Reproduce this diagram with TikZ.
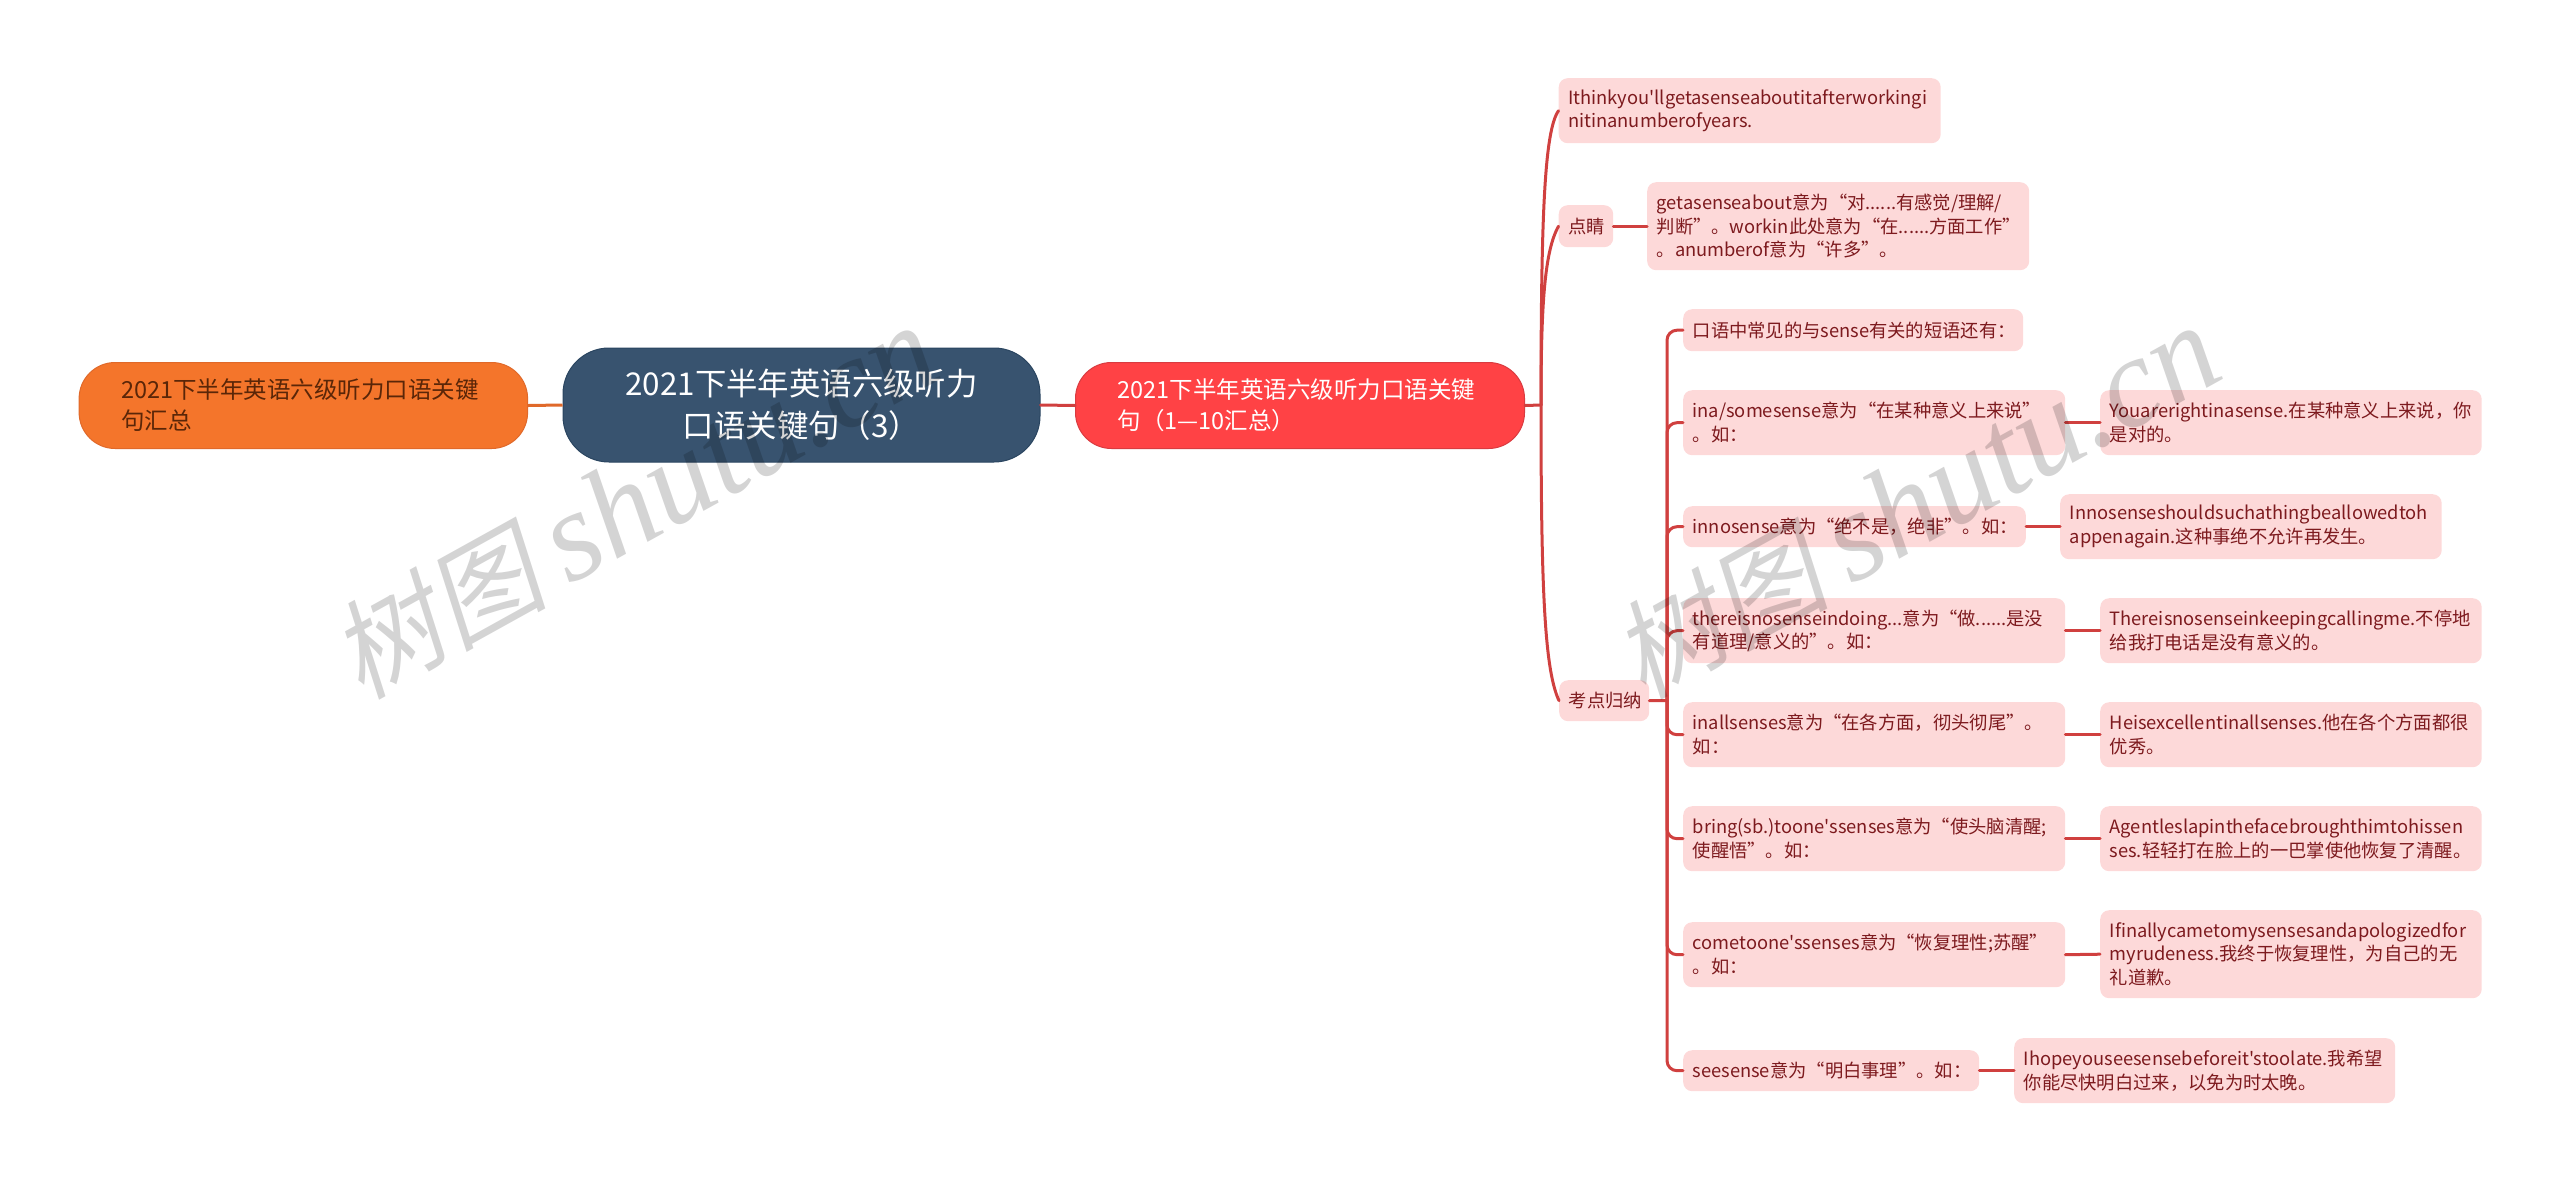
\documentclass[tikz,border=0pt]{standalone}
\usepackage{fontspec}
\usepackage{xcolor}
\newfontfamily\cjk{Noto Sans CJK SC}
\newfontfamily\cjkwm[FakeSlant=0.2]{Noto Sans CJK SC}
\newfontfamily\latwm{Liberation Serif}
\definecolor{rootbg}{HTML}{38536F}
\definecolor{rootln}{HTML}{2A4560}
\definecolor{leftbg}{HTML}{F4752B}
\definecolor{leftln}{HTML}{E0692A}
\definecolor{lefttx}{HTML}{5A2608}
\definecolor{mainbg}{HTML}{FF4245}
\definecolor{mainln}{HTML}{D93B40}
\definecolor{palebg}{HTML}{FDD9D9}
\definecolor{paletx}{HTML}{7D1A1E}
\definecolor{connln}{HTML}{D0403F}
\tikzset{
  rootnode/.style={draw=rootln, fill=rootbg, line width=1pt, rounded corners=46pt, text=white, align=center, font=\cjk\fontsize{31.4}{42}\selectfont},
  pill/.style={line width=1pt, rounded corners=36pt, anchor=north west, inner xsep=42pt, align=left, font=\cjk\fontsize{23.5}{31}\selectfont},
  pale/.style={fill=palebg, rounded corners=9pt, anchor=north west, inner xsep=9.5pt, inner ysep=0pt, align=left, text=paletx, font=\cjk\fontsize{18.3}{23.5}\selectfont},
  sz/.style 2 args={text width={#1pt-19pt}, minimum height=#2pt},
  conn/.style={draw=connln, line width=3pt, line cap=round},
  wm/.style={text=black, opacity=0.17, rotate=29},
}
\newcommand{\wmtext}{{\cjkwm\fontsize{108}{108}\selectfont 树图}\hspace{22pt}{\latwm\itshape\fontsize{128}{128}\selectfont shutu.cn}}
\begin{document}
\begin{tikzpicture}[x=1pt, y=-1pt]
  \useasboundingbox (0,0) rectangle (2560,1181);
  \node[rootnode, minimum width=477pt, minimum height=114pt] (root) at (801.5,405) {2021下半年英语六级听力\\口语关键句（3）};
  \node[pill, draw=leftln, fill=leftbg, text=lefttx, text width=364.5pt, minimum height=86pt] (left) at (78.6,362) {2021下半年英语六级听力口语关键\\句汇总};
  \node[pill, draw=mainln, fill=mainbg, text=white, text width=365pt, minimum height=86pt] (main) at (1075,362) {2021下半年英语六级听力口语关键\\句（1—10汇总）};

  \coordinate (hub) at (1541,405);
  \coordinate (subhub) at (1667,700.5);

  \node[pale, sz={382}{65}] (ex) at (1558.5,78) {Ithinkyou'llgetasenseaboutitafterworkingi\\nitinanumberofyears.};
  \node[pale, sz={54.5}{42}] (tip) at (1558.5,205) {点睛};
  \node[pale, sz={382}{88}] (gloss) at (1647,182) {getasenseabout意为“对......有感觉/理解/\\判断”。workin此处意为“在......方面工作”\\。anumberof意为“许多”。};
  \node[pale, sz={90}{41}] (sum) at (1559,680) {考点归纳};

  \node[pale, sz={340}{42}] (k0) at (1683,309) {口语中常见的与sense有关的短语还有：};
  \node[pale, sz={382}{65}] (k1) at (1683,390) {ina/somesense意为“在某种意义上来说”\\。如：};
  \node[pale, sz={342.6}{41}] (k2) at (1683,506) {innosense意为“绝不是，绝非”。如：};
  \node[pale, sz={382}{65}] (k3) at (1683,598) {thereisnosenseindoing...意为“做......是没\\有道理/意义的”。如：};
  \node[pale, sz={382}{65}] (k4) at (1683,702) {inallsenses意为“在各方面，彻头彻尾”。\\如：};
  \node[pale, sz={382}{65}] (k5) at (1683,806) {bring(sb.)toone'ssenses意为“使头脑清醒;\\使醒悟”。如：};
  \node[pale, sz={382}{65}] (k6) at (1683,922) {cometoone'ssenses意为“恢复理性;苏醒”\\。如：};
  \node[pale, sz={296}{41}] (k7) at (1683,1050) {seesense意为“明白事理”。如：};

  \node[pale, sz={381.5}{65}] (r1) at (2100,390) {Youarerightinasense.在某种意义上来说，你\\是对的。};
  \node[pale, sz={381.5}{65}] (r2) at (2060,494) {Innosenseshouldsuchathingbeallowedtoh\\appenagain.这种事绝不允许再发生。};
  \node[pale, sz={381.5}{65}] (r3) at (2100,598) {Thereisnosenseinkeepingcallingme.不停地\\给我打电话是没有意义的。};
  \node[pale, sz={381.5}{65}] (r4) at (2100,702) {Heisexcellentinallsenses.他在各个方面都很\\优秀。};
  \node[pale, sz={381.5}{65}] (r5) at (2100,806) {Agentleslapinthefacebroughthimtohissen\\ses.轻轻打在脸上的一巴掌使他恢复了清醒。};
  \node[pale, sz={381.5}{88}] (r6) at (2100,910) {Ifinallycametomysensesandapologizedfor\\myrudeness.我终于恢复理性，为自己的无\\礼道歉。};
  \node[pale, sz={381}{65}] (r7) at (2014,1038) {Ihopeyouseesensebeforeit'stoolate.我希望\\你能尽快明白过来，以免为时太晚。};

  \draw[draw=leftln, line width=3pt] (left.east) -- (root.west);
  \draw[conn] (root.east) -- (main.west);
  \draw[conn] (main.east) -- (hub);
  \draw[conn] (hub) .. controls +(0,-190) and +(-14,20) .. (ex.west);
  \draw[conn] (hub) .. controls +(0,-100) and +(-14,25) .. (tip.west);
  \draw[conn] (hub) .. controls +(0,190) and +(-14,-30) .. (sum.west);
  \draw[conn] (tip.east) -- (gloss.west);
  \draw[conn] (sum.east) -- (subhub);
  \foreach \n in {0,...,7}
    \draw[conn, rounded corners=10pt] (subhub) |- (k\n.west);
  \foreach \n in {1,...,7}
    \draw[conn] (k\n.east) -- (r\n.west);

  \node[wm] (mark1) at (634,503) {\wmtext};
  \node[wm] (mark2) at (1916,503) {\wmtext};
\end{tikzpicture}
\end{document}
